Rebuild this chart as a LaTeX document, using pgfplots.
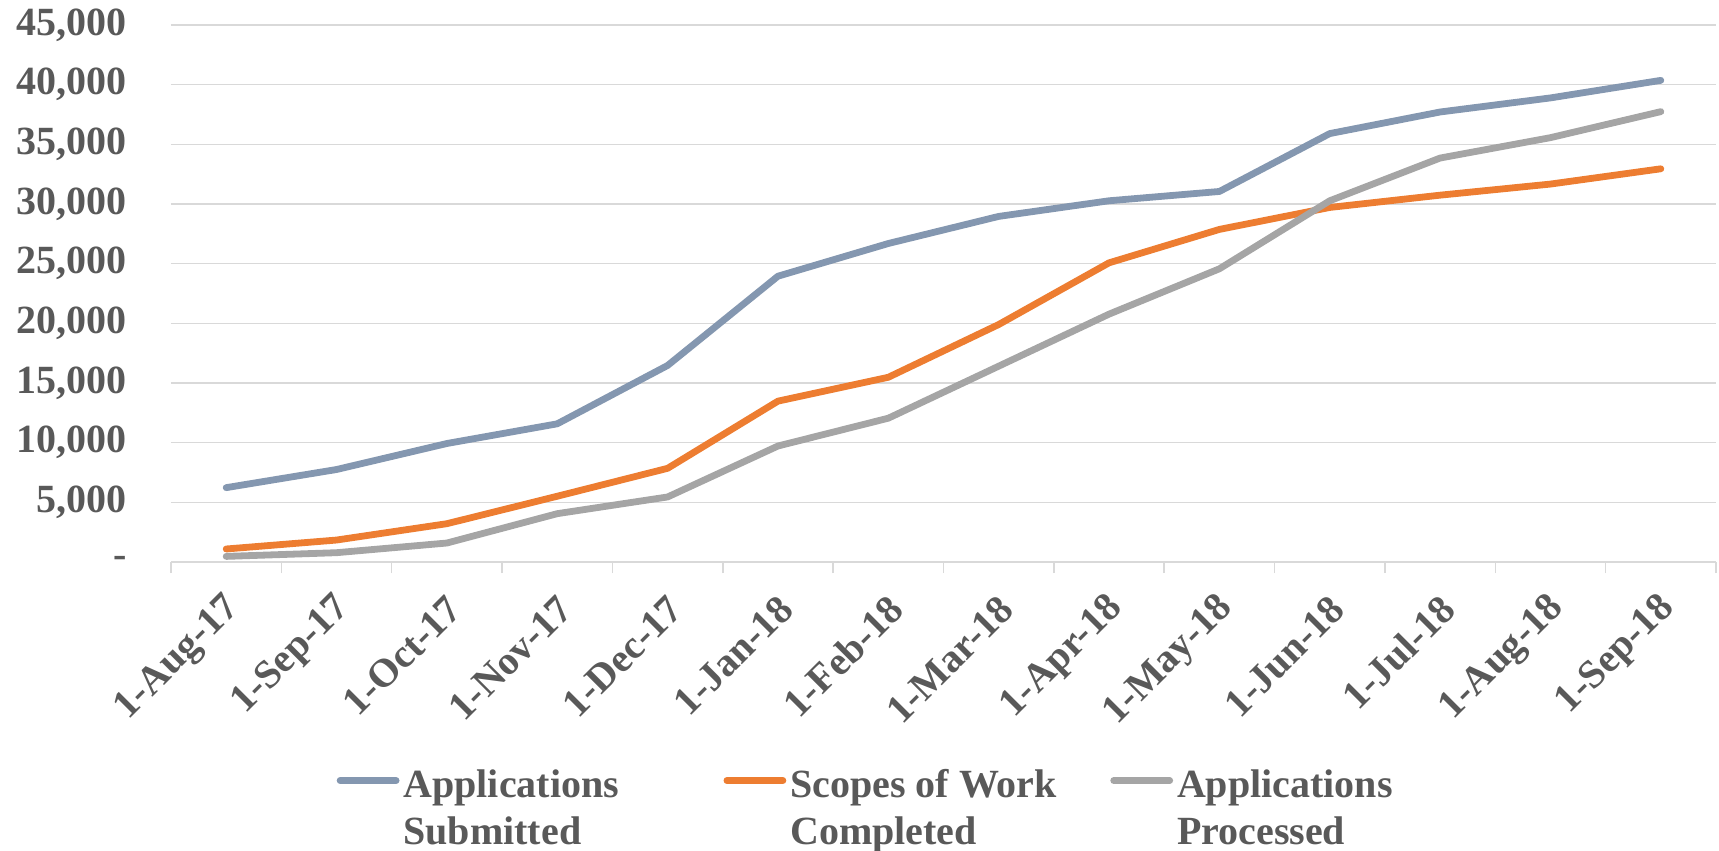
\documentclass[border=0pt]{standalone}
\usepackage{fontspec}
\setmainfont{Liberation Serif}
\usepackage{pgfplots}
\pgfplotsset{compat=1.18}
\definecolor{txt}{HTML}{595959}
\definecolor{gridc}{HTML}{D9D9D9}
\definecolor{cblue}{HTML}{8497B0}
\definecolor{corange}{HTML}{ED7D31}
\definecolor{cgray}{HTML}{A5A5A5}
\begin{document}
\begin{tikzpicture}
\begin{axis}[
  at={(0pt,0pt)}, anchor=south west,
  scale only axis, width=772.5pt, height=268.5pt,
  xmin=-0.5, xmax=13.5, ymin=0, ymax=45000,
  scaled y ticks=false,
  axis lines*=left, separate axis lines,
  y axis line style={draw=none},
  x axis line style={draw=gridc, line width=0.75pt},
  ymajorgrids, grid style={draw=gridc, line width=0.75pt},
  ytick={0,5000,...,45000},
  yticklabels={{-\hspace{19pt}},{5,000},{10,000},{15,000},{20,000},{25,000},{30,000},{35,000},{40,000},{45,000}},
  xtick={0,...,13},
  xticklabels={1-Aug-17,1-Sep-17,1-Oct-17,1-Nov-17,1-Dec-17,1-Jan-18,1-Feb-18,1-Mar-18,1-Apr-18,1-May-18,1-Jun-18,1-Jul-18,1-Aug-18,1-Sep-18},
  minor xtick={-0.5,0.5,...,13.5},
  major tick length=0pt, minor tick length=5.5pt, tick align=outside,
  minor tick style={draw=gridc, line width=0.75pt},
  tick label style={font=\fontsize{20}{24}\selectfont\bfseries, text=txt},
  yticklabel style={xshift=-18.8pt},
  xticklabel style={xshift=6.5pt, yshift=-18pt, rotate=45, anchor=east},
  clip=false,
  legend columns=3,
  legend cell align=left,
  legend style={draw=none, fill=none, at={(0.107,-0.378)}, anchor=north west, inner sep=0pt,
    font=\fontsize{20}{23.5}\selectfont\bfseries, text=txt,
    /tikz/every even column/.append style={column sep=0pt}},
  legend image code/.code={\draw[#1] (0pt,2.2pt)--(28pt,2.2pt);},
  every axis plot/.append style={line width=3.4pt, line cap=round, line join=round},
]
\addplot[cblue] coordinates {(0,6230) (1,7750) (2,9930) (3,11580) (4,16470) (5,23950) (6,26690) (7,28960) (8,30270) (9,31050) (10,35900) (11,37710) (12,38890) (13,40360)};
\addlegendentry{\parbox[t]{158pt}{Applications\\Submitted}}
\addplot[corange] coordinates {(0,1090) (1,1840) (2,3210) (3,5510) (4,7850) (5,13480) (6,15480) (7,19900) (8,25070) (9,27870) (10,29710) (11,30740) (12,31670) (13,32950)};
\addlegendentry{\parbox[t]{158pt}{Scopes of Work\\Completed}}
\addplot[cgray] coordinates {(0,470) (1,780) (2,1590) (3,4050) (4,5450) (5,9720) (6,12050) (7,16410) (8,20770) (9,24570) (10,30270) (11,33850) (12,35560) (13,37740)};
\addlegendentry{\parbox[t]{158pt}{Applications\\Processed}}
\end{axis}
\pgfresetboundingbox
\useasboundingbox (-85.5pt,-144.5pt) rectangle (774pt,281pt);
\end{tikzpicture}
\end{document}
